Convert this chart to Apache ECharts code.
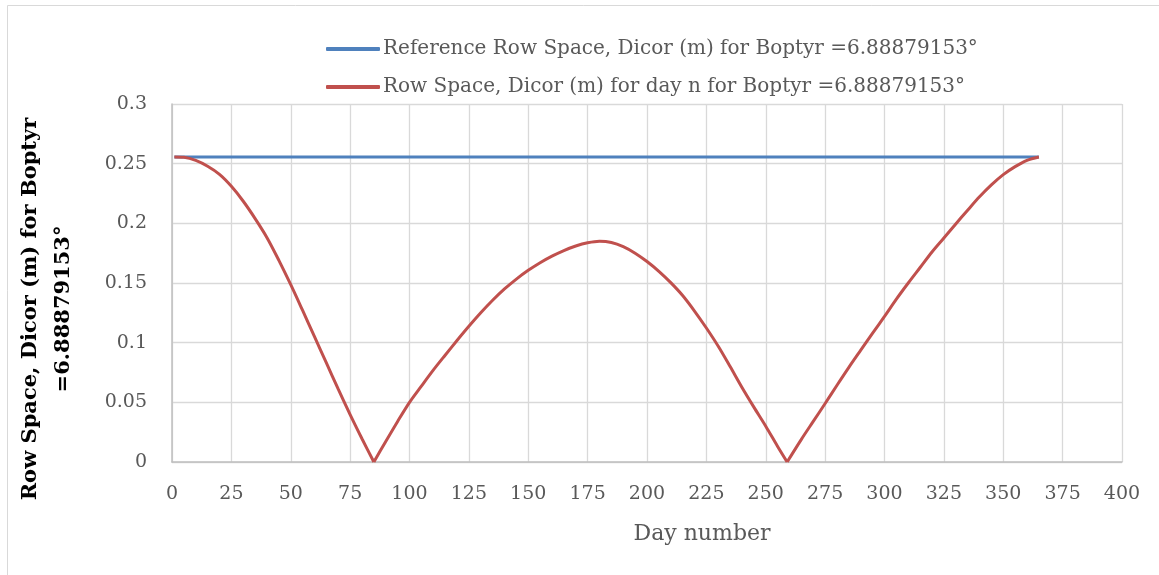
<!DOCTYPE html>
<html>
<head>
<meta charset="utf-8">
<script src="https://cdn.jsdelivr.net/npm/echarts@6/dist/echarts.min.js"></script>
<style>
  html, body { margin: 0; padding: 0; background: #fff; }
  #chart { width: 1159px; height: 575px; }
</style>
</head>
<body>
<div id="chart"></div>
<script>
// series names
var refName = 'Reference Row Space, Dicor (m) for Boptyr =6.88879153°';
var dayName = 'Row Space, Dicor (m) for day n for Boptyr =6.88879153°';

// reference row space (flat)
var refDays = [1, 365];
var refValues = [0.2556, 0.2556];

// row space for each day
var days = [1, 5, 10, 15, 20, 25, 30, 35, 40, 45, 50, 55, 60, 65, 70, 75, 80, 85,
  90, 95, 100, 105, 110, 115, 120, 125, 130, 135, 140, 145, 150, 155, 160, 165, 170,
  175, 180, 185, 190, 195, 200, 205, 210, 215, 220, 225, 230, 235, 240, 245, 250, 255, 259,
  265, 270, 275, 280, 285, 290, 295, 300, 305, 310, 315, 320, 325, 330, 335, 340, 345,
  350, 355, 360, 365];
var values = [0.2556, 0.2553, 0.2527, 0.2478, 0.2410, 0.2310, 0.2185, 0.2040, 0.1880,
  0.1690, 0.1486, 0.1270, 0.1050, 0.0830, 0.0610, 0.0397, 0.0195, 0.0000,
  0.0172, 0.0340, 0.0500, 0.0636, 0.0770, 0.0895, 0.1018, 0.1137, 0.1250, 0.1355,
  0.1450, 0.1533, 0.1606, 0.1670, 0.1725, 0.1772, 0.1810, 0.1837, 0.1850, 0.1840,
  0.1805, 0.1750, 0.1680, 0.1598, 0.1503, 0.1395, 0.1265, 0.1123, 0.0970, 0.0800,
  0.0625, 0.0460, 0.0300, 0.0130, 0.0000,
  0.0190, 0.0340, 0.0490, 0.0643, 0.0793, 0.0937, 0.1080, 0.1220, 0.1365, 0.1500,
  0.1630, 0.1760, 0.1877, 0.1995, 0.2110, 0.2222, 0.2322, 0.2408, 0.2475, 0.2528, 0.2556];

function pairs(xs, ys) {
  return xs.map(function (x, i) { return [x, ys[i]]; });
}

// split the curve at its zero points so the V bottoms stay sharp
var dayPts = pairs(days, values);
var segments = [];
var start = 0;
dayPts.forEach(function (p, i) {
  if (i > 0 && p[1] === 0) {
    segments.push(dayPts.slice(start, i + 1));
    start = i;
  }
});
segments.push(dayPts.slice(start));

var chart = echarts.init(document.getElementById('chart'));
var font = 'DejaVu Serif';

var series = [{
  name: refName,
  type: 'line',
  showSymbol: false,
  data: pairs(refDays, refValues),
  itemStyle: { color: '#4f81bd' },
  lineStyle: { color: '#4f81bd', width: 3 }
}];
segments.forEach(function (seg) {
  series.push({
    name: dayName,
    type: 'line',
    showSymbol: false,
    smooth: 0.3,
    data: seg,
    itemStyle: { color: '#c0504d' },
    lineStyle: { color: '#c0504d', width: 3 }
  });
});

chart.setOption({
  backgroundColor: '#fff',
  animation: false,
  graphic: [{
    type: 'rect',
    shape: { x: 7.5, y: 5.5, width: 1160, height: 590 },
    style: { fill: 'none', stroke: '#d9d9d9', lineWidth: 1 },
    silent: true
  }],
  legend: {
    orient: 'vertical',
    left: 321,
    top: 34,
    itemWidth: 54,
    itemHeight: 4,
    itemGap: 18,
    icon: 'roundRect',
    textStyle: { fontFamily: font, fontSize: 20, color: '#595959', lineHeight: 20, padding: [0, 0, 0, -2] },
    data: [refName, dayName]
  },
  grid: { left: 172, right: 37, top: 104, bottom: 113 },
  xAxis: {
    type: 'value',
    min: 0,
    max: 400,
    interval: 25,
    name: 'Day number',
    nameLocation: 'middle',
    nameGap: 61,
    nameTextStyle: { fontFamily: font, fontSize: 22, color: '#595959', padding: [0, 0, 0, 110] },
    axisLine: { lineStyle: { color: '#bfbfbf', width: 1.5 } },
    axisTick: { show: false },
    axisLabel: { fontFamily: font, fontSize: 19, color: '#595959', margin: 23 },
    splitLine: { show: true, lineStyle: { color: '#d9d9d9', width: 1.3 } }
  },
  yAxis: {
    type: 'value',
    min: 0,
    max: 0.3,
    interval: 0.05,
    name: 'Row Space, Dicor (m) for Boptyr\n=6.88879153°',
    nameLocation: 'middle',
    nameRotate: 90,
    nameGap: 92,
    nameTextStyle: { fontFamily: font, fontSize: 21, fontWeight: 'bold', color: '#000', lineHeight: 33, padding: [0, 52, 0, 0] },
    axisLine: { show: true, lineStyle: { color: '#bfbfbf', width: 1.5 } },
    axisTick: { show: false },
    axisLabel: { fontFamily: font, fontSize: 19, color: '#595959', margin: 25 },
    splitLine: { show: true, lineStyle: { color: '#d9d9d9', width: 1.3 } }
  },
  series: series
});
</script>
</body>
</html>
